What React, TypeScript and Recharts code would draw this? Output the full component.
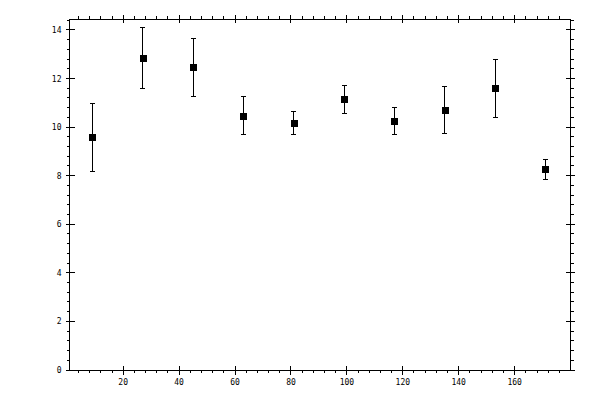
import React from "react";
import { ScatterChart, Scatter, XAxis, YAxis, ErrorBar } from "recharts";

// bin centres, mean values and symmetric errors
const binCenters = [9, 27, 45, 63, 81, 99, 117, 135, 153, 171];
const meanValues = [9.58, 12.83, 12.46, 10.47, 10.16, 11.14, 10.24, 10.69, 11.6, 8.26];
const errors = [1.4, 1.25, 1.19, 0.79, 0.48, 0.58, 0.55, 0.97, 1.2, 0.41];

const xTicks = [
  4, 8, 12, 16, 20, 24, 28, 32, 36, 40, 44, 48, 52, 56, 60, 64, 68, 72, 76, 80, 84, 88,
  92, 96, 100, 104, 108, 112, 116, 120, 124, 128, 132, 136, 140, 144, 148, 152, 156,
  160, 164, 168, 172, 176,
];
const xLabels = [20, 40, 60, 80, 100, 120, 140, 160];

const yTicks = [
  0, 0.4, 0.8, 1.2, 1.6, 2, 2.4, 2.8, 3.2, 3.6, 4, 4.4, 4.8, 5.2, 5.6, 6, 6.4, 6.8, 7.2,
  7.6, 8, 8.4, 8.8, 9.2, 9.6, 10, 10.4, 10.8, 11.2, 11.6, 12, 12.4, 12.8, 13.2, 13.6, 14,
  14.4,
];
const yLabels = [0, 2, 4, 6, 8, 10, 12, 14];

const data = binCenters.map((x, i) => ({ x, y: meanValues[i], err: errors[i] }));

const FONT = "'DejaVu Sans Mono', monospace";
const isLabel = (list: number[], v: number) => list.some((l) => Math.abs(l - v) < 1e-6);

const BottomTick = (props: any) => {
  const { x, y, payload } = props;
  const major = isLabel(xLabels, payload.value);
  return (
    <g>
      <line
        x1={x}
        x2={x}
        y1={major ? y - 4 : y}
        y2={major ? y + 5 : y + 3}
        stroke="#000"
        shapeRendering="crispEdges"
      />
      {major && (
        <text x={x} y={y + 15} textAnchor="middle" fontSize={8} fontFamily={FONT} fill="#000">
          {payload.value}
        </text>
      )}
    </g>
  );
};

const TopTick = (props: any) => {
  const { x, y, payload } = props;
  const major = isLabel(xLabels, payload.value);
  return (
    <line
      x1={x}
      x2={x}
      y1={major ? y - 4 : y - 3}
      y2={major ? y + 4 : y}
      stroke="#000"
      shapeRendering="crispEdges"
    />
  );
};

const LeftTick = (props: any) => {
  const { x, y, payload } = props;
  const major = isLabel(yLabels, payload.value);
  return (
    <g>
      <line
        x1={major ? x - 4 : x - 3}
        x2={major ? x + 5 : x}
        y1={y}
        y2={y}
        stroke="#000"
        shapeRendering="crispEdges"
      />
      {major && (
        <text x={x - 8} y={y + 3} textAnchor="end" fontSize={8} fontFamily={FONT} fill="#000">
          {payload.value}
        </text>
      )}
    </g>
  );
};

const RightTick = (props: any) => {
  const { x, y, payload } = props;
  const major = isLabel(yLabels, payload.value);
  return (
    <line
      x1={major ? x - 4 : x}
      x2={major ? x + 5 : x + 4}
      y1={y}
      y2={y}
      stroke="#000"
      shapeRendering="crispEdges"
    />
  );
};

const SquareMarker = (props: any) => {
  const { cx, cy } = props;
  return (
    <rect
      x={Math.round(cx) - 3.5}
      y={Math.round(cy) - 3.5}
      width={7}
      height={7}
      fill="#000"
      shapeRendering="crispEdges"
    />
  );
};

const axisLine = { stroke: "#000", shapeRendering: "crispEdges" } as any;

export default function App() {
  return (
    <div style={{ margin: -8, width: 600, height: 400, background: "#fff" }}>
      <ScatterChart
        width={600}
        height={400}
        margin={{ top: 18, right: 29, bottom: 29, left: 68.5 }}
      >
        <XAxis
          xAxisId="bottom"
          dataKey="x"
          type="number"
          domain={[0.8, 179.8]}
          allowDataOverflow
          ticks={xTicks}
          interval={0}
          height={1}
          tickSize={0}
          tickMargin={0}
          tickLine={false}
          axisLine={axisLine}
          tick={<BottomTick />}
        />
        <XAxis
          xAxisId="top"
          orientation="top"
          dataKey="x"
          type="number"
          domain={[0.8, 179.8]}
          allowDataOverflow
          ticks={xTicks}
          interval={0}
          height={1}
          tickSize={0}
          tickMargin={0}
          tickLine={false}
          axisLine={axisLine}
          tick={<TopTick />}
        />
        <YAxis
          yAxisId="left"
          dataKey="y"
          type="number"
          domain={[0, 14.45]}
          allowDataOverflow
          ticks={yTicks}
          interval={0}
          width={1}
          tickSize={0}
          tickMargin={0}
          tickLine={false}
          axisLine={axisLine}
          tick={<LeftTick />}
        />
        <YAxis
          yAxisId="right"
          orientation="right"
          dataKey="y"
          type="number"
          domain={[0, 14.45]}
          allowDataOverflow
          ticks={yTicks}
          interval={0}
          width={1}
          tickSize={0}
          tickMargin={0}
          tickLine={false}
          axisLine={axisLine}
          tick={<RightTick />}
        />
        <Scatter
          data={data}
          xAxisId="bottom"
          yAxisId="left"
          shape={<SquareMarker />}
          isAnimationActive={false}
        >
          <ErrorBar
            dataKey="err"
            direction="y"
            width={2.5}
            stroke="#000"
            strokeWidth={1}
            shapeRendering="crispEdges"
          />
        </Scatter>
      </ScatterChart>
    </div>
  );
}
